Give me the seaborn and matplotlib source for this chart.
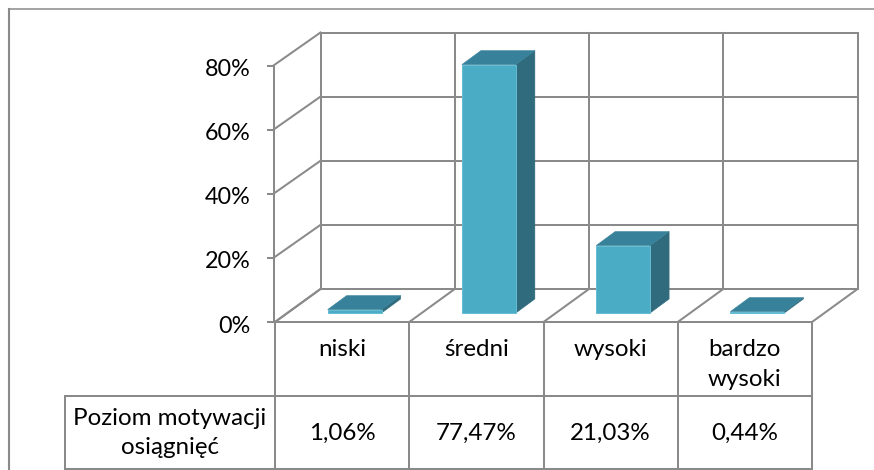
import matplotlib
matplotlib.use("Agg")
import matplotlib.pyplot as plt
import pandas as pd
import seaborn as sns
from matplotlib.patches import Polygon
from matplotlib.transforms import Affine2D, ScaledTranslation

categories = ["niski", "średni", "wysoki", "bardzo\nwysoki"]
values = [1.06, 77.47, 21.03, 0.44]
y_ticks = [0, 20, 40, 60, 80]
row_label = "Poziom motywacji\nosiągnięć"

W, H = 874, 470
GRID = "#8A8A8A"
FRONT, SIDE, TOP, EDGE = "#4BACC6", "#2F6B7D", "#37829A", "#66BCD3"
FS = 17.4
FS_TICK = 16.8
LW = 1.45
SPACING = 1.5

sns.set_style("white")
plt.rcParams["font.family"] = ["Lato", "DejaVu Sans"]

fig = plt.figure(figsize=(W / 100, H / 100), dpi=100, facecolor="white")

# background axes in pixel units for the walls and the table
bg = fig.add_axes([0, 0, 1, 1], zorder=0)
bg.set_xlim(0, W)
bg.set_ylim(H, 0)
bg.axis("off")

# front plane of the 3D box carries the value and category scales
L, R, Y0, Y80 = 275, 812, 322, 65.5
ax = fig.add_axes([L / W, 1 - Y0 / H, (R - L) / W, (Y0 - Y80) / H], zorder=1)
ax.patch.set_visible(False)
df = pd.DataFrame({"kategoria": categories, "wartosc": values})
sns.barplot(data=df, x="kategoria", y="wartosc", color=FRONT, saturation=1,
            width=0.402, ax=ax, zorder=4)
ax.set_xlim(-0.5, 3.5)
ax.set_ylim(0, 80)
ax.set_xlabel("")
ax.set_ylabel("")
sns.despine(ax=ax, top=True, right=True, bottom=True)
ax.spines["left"].set_color(GRID)
ax.spines["left"].set_linewidth(LW)
ax.spines["left"].set_position(("outward", 1))
ax.set_yticks(y_ticks)
ax.set_yticklabels([f"{v}%" for v in y_ticks])
ax.tick_params(axis="y", left=True, length=5, width=LW, color=GRID, pad=11.5,
               labelsize=FS_TICK, labelcolor="black")
nudge = ScaledTranslation(0, -1.5 / 72, fig.dpi_scale_trans)
for lab in ax.get_yticklabels():
    lab.set_transform(lab.get_transform() + nudge)
ax.set_xticks(range(len(categories)))
ax.set_xticklabels(categories, linespacing=SPACING, va="top")
ax.tick_params(axis="x", bottom=False, pad=9, labelsize=FS, labelcolor="black")


def line(xs, ys, lw=LW, color=GRID):
    bg.plot(xs, ys, color=color, lw=lw, solid_capstyle="projecting", clip_on=False)


# outer frame of the chart
line([8.5, 8.5], [H, 8.5], lw=1.5)
line([8.5, W], [8.5, 8.5], lw=1.1)

# box geometry
DX, DY = 45.5, 33
n = len(categories)
cell = (R - L) / n
sy = (Y0 - Y80) / 80
for v in y_ticks:
    yf = Y0 - v * sy
    line([L + DX, R + DX], [yf - DY, yf - DY])
    line([L - 1.5 if v else L, L + DX], [yf, yf - DY])
for i in range(n + 1):
    xf = L + i * cell
    line([xf + DX, xf + DX], [Y0 - DY, Y80 - DY])
    line([xf, xf + DX], [Y0, Y0 - DY])
line([L, R], [Y0, Y0])

# table below the plot
ROW1, ROW2, TL = 396, 469, 65
for i in range(n + 1):
    xf = L + i * cell
    line([xf, xf], [Y0, ROW2])
line([TL, R], [ROW1, ROW1])
line([TL, R], [ROW2, ROW2])
line([TL, TL], [ROW1, ROW2])
for i, v in enumerate(values):
    bg.text(L + (i + 0.5) * cell, 433, f"{v:.2f}".replace(".", ",") + "%",
            ha="center", va="center", fontsize=FS, color="black")
bg.text((TL + L) / 2, 433, row_label, ha="center", va="center", fontsize=FS,
        color="black", linespacing=SPACING)

# place bars inside the box depth and extrude them
BSX, BSY = 12.5, 9
SX, SY = 19, 14
shift = Affine2D().translate(BSX, BSY)
for p in list(ax.patches):
    x, y, w, h = p.get_x(), p.get_y(), p.get_width(), p.get_height()
    p.set_transform(ax.transData + shift)
    p.set_clip_on(False)
    p.set_edgecolor(EDGE)
    p.set_linewidth(0.7)
    a, b = ax.transData.transform([(x, h), (x + w, h)])
    top_pts = [a, b, b + (SX, SY), a + (SX, SY)]
    base = ax.transData.transform((x + w, 0))
    side_pts = [b, b + (SX, SY), base + (SX, SY), base]
    for pts, col in ((side_pts, SIDE), (top_pts, TOP)):
        ax.add_patch(Polygon(pts, closed=True, facecolor=col, edgecolor=col, lw=0.4,
                             transform=shift, clip_on=False, zorder=3))

fig.savefig("out.png", dpi=100)
